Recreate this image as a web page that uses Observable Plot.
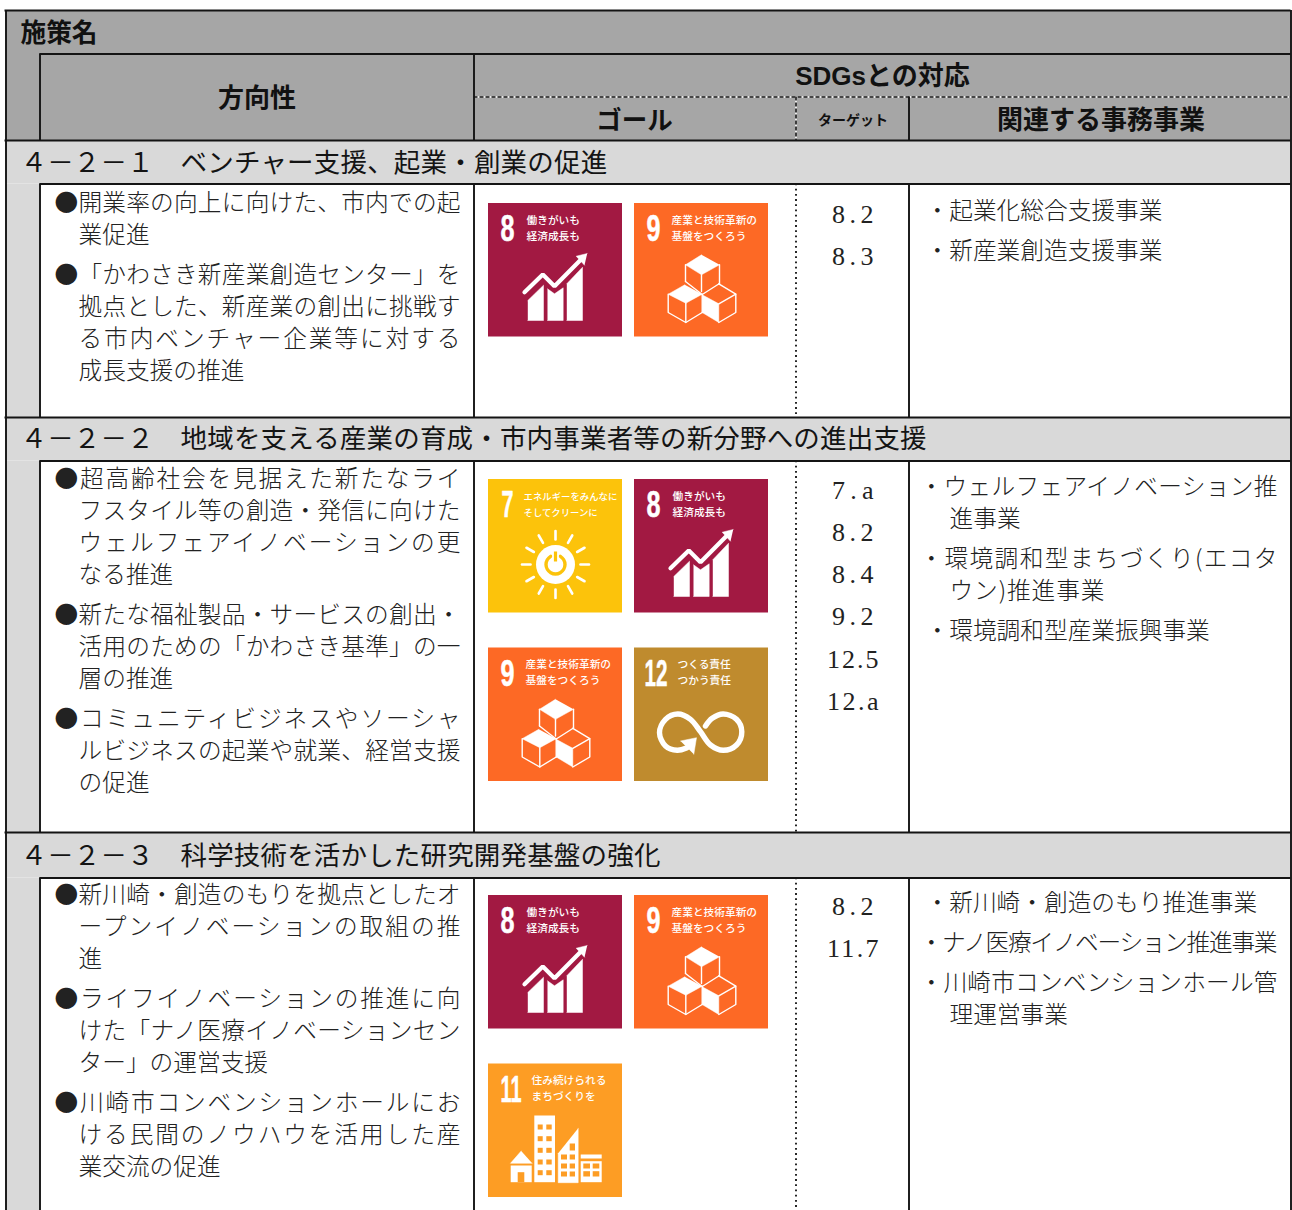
<!DOCTYPE html>
<html lang="ja">
<head>
<meta charset="utf-8">
<script src="https://cdn.jsdelivr.net/npm/d3@7"></script>
<script src="https://cdn.jsdelivr.net/npm/@observablehq/plot@0.6"></script>
<style>
html,body{margin:0;padding:0;background:#fff;overflow:hidden}
svg{display:block}
</style>
</head>
<body>
<div id="chart"></div>
<script>
// ---------- Content ----------
const titleText = "施策名";
const headDirection = "方向性";
const headSdgs = "SDGsとの対応";
const headGoal = "ゴール";
const headTarget = "ターゲット";
const headProjects = "関連する事務事業";

const sectionTitles = [
  "４－２－１　ベンチャー支援、起業・創業の促進",
  "４－２－２　地域を支える産業の育成・市内事業者等の新分野への進出支援",
  "４－２－３　科学技術を活かした研究開発基盤の強化"
];
const directions = [
  [["●開業率の向上に向けた、市内での起","業促進"],
   ["●「かわさき新産業創造センター」を","拠点とした、新産業の創出に挑戦す","る市内ベンチャー企業等に対する","成長支援の推進"]],
  [["●超高齢社会を見据えた新たなライ","フスタイル等の創造・発信に向けた","ウェルフェアイノベーションの更","なる推進"],
   ["●新たな福祉製品・サービスの創出・","活用のための「かわさき基準」の一","層の推進"],
   ["●コミュニティビジネスやソーシャ","ルビジネスの起業や就業、経営支援","の促進"]],
  [["●新川崎・創造のもりを拠点としたオ","ープンイノベーションの取組の推","進"],
   ["●ライフイノベーションの推進に向","けた「ナノ医療イノベーションセン","ター」の運営支援"],
   ["●川崎市コンベンションホールにお","ける民間のノウハウを活用した産","業交流の促進"]]
];
const goalNumbers = [[8,9],[7,8,9,12],[8,9,11]];
const targets = [["8.2","8.3"],["7.a","8.2","8.4","9.2","12.5","12.a"],["8.2","11.7"]];
const projects = [
  [["・起業化総合支援事業"],["・新産業創造支援事業"]],
  [["・ウェルフェアイノベーション推","進事業"],["・環境調和型まちづくり(エコタ","ウン)推進事業"],["・環境調和型産業振興事業"]],
  [["・新川崎・創造のもり推進事業"],["・ナノ医療イノベーション推進事業"],["・川崎市コンベンションホール管","理運営事業"]]
];
const goalLabels = {
  7:["エネルギーをみんなに","そしてクリーンに"],
  8:["働きがいも","経済成長も"],
  9:["産業と技術革新の","基盤をつくろう"],
  11:["住み続けられる","まちづくりを"],
  12:["つくる責任","つかう責任"]
};

// ---------- Layout of the sheet ----------
const W = 1292, H = 1210;
const colX = {outer:5.5, inner:39.5, goal:473.5, target:795.5, proj:908.5, right:1290.5};
const rowY = {top:10, head1:53.5, headDash:96.5, headEnd:140};
const sectionRows = [
  {band:141, body:183.5, end:417, firstLine:203, tileY:203, targetY:214, projY:211},
  {band:418, body:460.5, end:832, firstLine:479, tileY:479, targetY:490, projY:487},
  {band:833, body:877.5, end:H,   firstLine:895, tileY:895, targetY:906, projY:903}
];
const sectionCenter = [163,439,856];
const ink = "#141414";
const headFill = "#a6a6a6", bandFill = "#d9d9d9";
const sans = "'Noto Sans CJK JP','Noto Sans',sans-serif";
const numberFont = "'Liberation Sans Narrow','Liberation Sans',sans-serif";
const numberSize = 36.5;
const bodySize = 23.7;
const sectionPitch = 26.62;
const goalColor = {7:"#fcc30b",8:"#a21942",9:"#fd6925",11:"#fd9d24",12:"#bf8b2e"};

// Text stretched (or squeezed) to fit its measure, like a justified line.
const fitText = (adjust="spacing") => function(index, scales, values, dims, ctx, next){
  const g = next(index, scales, values, dims, ctx);
  const nodes = g.querySelectorAll("text");
  const data = this.data;
  index.forEach((i,k)=>{
    const d = data[i];
    if (d && d.x1 != null && nodes[k]) {
      nodes[k].setAttribute("textLength", scales.x(d.x1)-scales.x(d.x0));
      nodes[k].setAttribute("lengthAdjust", adjust);
    }
  });
  return g;
};
// The tall narrow tile numbers are condensed horizontally to the figure's width.
const measure = document.createElement("canvas").getContext("2d");
const condense = function(index, scales, values, dims, ctx, next){
  const g = next(index, scales, values, dims, ctx);
  const nodes = g.querySelectorAll("text");
  const data = this.data;
  index.forEach((i,k)=>{
    const d = data[i];
    measure.font = `700 ${numberSize}px ${numberFont}`;
    const sx = (d.x1-d.x0)/measure.measureText(d.t).width;
    nodes[k].setAttribute("transform", `${nodes[k].getAttribute("transform")} scale(${sx},1)`);
  });
  return g;
};
const textRows = (rows, o) => Plot.text(rows, {
  x:"x0", y:"y", text:"t", textAnchor:"start", lineAnchor:"middle",
  fontFamily:sans, fill:ink, render:fitText(o.adjust), ...o
});

// Paragraph lines: 32 apart, 40 between paragraphs; all but the last line are justified.
function paragraphLines(paragraphs, y0, xBullet, xCont, xEnd, longChars, xBulletLong, endings={}){
  const out = []; let y = y0;
  paragraphs.forEach(lines=>{
    lines.forEach((t,j)=>{
      const n = [...t].length;
      const x0 = j===0 ? (n>=longChars ? xBulletLong : xBullet) : xCont;
      const last = j===lines.length-1;
      const over = x0+n*bodySize > xEnd;
      const x1 = endings[t] ?? ((!last||over) ? xEnd : null);
      out.push({t, x0, y, x1});
      y += 32;
    });
    y += 8;
  });
  return out;
}

const bodyRows = [], projRows = [], targetRows = [];
const projectEndings = {"ウン)推進事業":1104};
sectionRows.forEach((s,i)=>{
  bodyRows.push(...paragraphLines(directions[i], s.firstLine, 54, 78, 460, 99, 54));
  projRows.push(...paragraphLines(projects[i], s.projY, 925, 949, 1277, 15, 919, projectEndings));
  targets[i].forEach((t,j)=>{
    const wide = t.length>3;
    targetRows.push({t, x0:wide?826.5:831.5, x1:wide?878:873, y:s.targetY+j*42.2});
  });
});
const sectionRowsText = sectionTitles.map((t,i)=>({t,x0:20,y:sectionCenter[i],x1:21+[...t].length*sectionPitch}));

// ---------- Icon shapes, in tile units (tile = 134 wide) ----------
const shapes = {
  8:{
    fills:[
      [[39.3,97],[55,81.7],[55,117],[39.3,117]],
      [[59,85.3],[66,90.3],[74.7,84.3],[74.7,117],[59,117]],
      [[78.3,80.3],[94,63.7],[94,117],[78.3,117]],
      [[98.7,50],[87.7,52.7],[96,61.7]]
    ],
    strokes:[{w:4.2,pts:[[36,88.7],[54.3,71],[66,82.7],[92,56.5]]}]
  },
  9:{
    fills:[
      [[67,51.3],[51,61.3],[67,71.3],[85,61.3]],
      [[50.3,81.3],[33.7,90.7],[51.3,99.7],[67.7,90.7]],
      [[67.7,91.3],[84.3,100.3],[84.3,119],[67.7,109]]
    ],
    strokes:[
      {w:1.4,pts:[[51,61.3],[51,78]]},{w:1.4,pts:[[85,61.3],[85,80]]},{w:1.4,pts:[[67,71.3],[67,88]]},
      {w:1.4,pts:[[51,78],[67.7,91]]},{w:1.4,pts:[[85,80],[67.7,91]]},
      {w:1.4,pts:[[33.7,90.7],[33.7,109],[51.3,119],[67.7,109]]},
      {w:1.4,pts:[[51.3,99.7],[51.3,119]]},{w:1.4,pts:[[67.7,90.7],[67.7,109]]},
      {w:1.4,pts:[[84.3,80.3],[101.3,90.7],[101.3,109],[84.3,119]]},
      {w:1.4,pts:[[84.3,100.3],[101.3,90.7]]}
    ]
  },
  12:{
    fills:[[[46,93],[62,89.7],[59.3,106.3]]],
    curves:[{w:5.4,pts:[[52,100],[42.7,102.3],[31,98],[25,84.7],[31,71.3],[43.3,66],[56,71.3],[66,83.7],[76,97],[88.7,102.3],[102,97],[107.3,83.7],[102,71.3],[88.7,66],[77.7,70.3],[71,78]]}]
  },
  11:{
    rects:[[46.3,52,67,118.7],[22.7,102,43.7,118.7],[92.7,91,113.7,95],[92.7,97.7,113.7,118.7]],
    fills:[[[32.7,87],[22,99.3],[43.7,99.3]],[[89.7,64.3],[89.7,118.7],[69.7,118.7],[69.7,89.3]]],
    holes:[
      [49.7,61,54.7,66],[58.3,61,63.7,66],[49.7,72.7,54.7,77.7],[58.3,72.7,63.7,77.7],
      [49.7,84.3,54.7,89.3],[58.3,84.3,63.7,89.3],[49.7,96,54.7,101],[58.3,96,63.7,101],
      [49.7,106.7,54.7,111.7],[58.3,106.7,63.7,111.7],[29.7,108.7,36.3,118.7],
      [81.7,80,87,87],[73,91,79,96],[81.7,91,87,96],[73,100,79,105],[81.7,100,87,105],[73,108,79,113],[81.7,108,87,113],
      [95.3,100,102,105],[104.7,100,111.3,105],[95.3,107.7,102,113],[104.7,107.7,111.3,113]
    ]
  }
};
const sunRayHours = [0,1,2,3,4,5,6,7,8,9,10,11];
const powerArcDeg = [30,60,90,120,150,180,210,240,270,300,330];

const numberWidth = {7:12,8:14,9:14,11:21,12:23};
const numberInset = {7:13,8:12,9:12,11:12,12:10};
const labelInset = {7:35,8:38,9:37,11:43,12:43};

function tileMarks(goal, ox, oy){
  const marks = [];
  const P = p=>({x:ox+p[0], y:oy+p[1]});
  marks.push(Plot.rect([{x1:ox,x2:ox+134,y1:oy,y2:oy+133.5}],{x1:"x1",x2:"x2",y1:"y1",y2:"y2",fill:goalColor[goal],inset:0}));
  const s = shapes[goal] || {};
  (s.rects||[]).forEach(r=>marks.push(Plot.rect([{x1:ox+r[0],y1:oy+r[1],x2:ox+r[2],y2:oy+r[3]}],{x1:"x1",x2:"x2",y1:"y1",y2:"y2",fill:"white"})));
  (s.fills||[]).forEach(f=>marks.push(Plot.line(f.map(P),{x:"x",y:"y",fill:"white",stroke:"white",strokeWidth:.5})));
  (s.strokes||[]).forEach(l=>marks.push(Plot.line(l.pts.map(P),{x:"x",y:"y",stroke:"white",strokeWidth:l.w,strokeLinejoin:"miter"})));
  (s.curves||[]).forEach(l=>marks.push(Plot.line(l.pts.map(P),{x:"x",y:"y",stroke:"white",strokeWidth:l.w,curve:"catmull-rom"})));
  (s.holes||[]).forEach(r=>marks.push(Plot.rect([{x1:ox+r[0],y1:oy+r[1],x2:ox+r[2],y2:oy+r[3]}],{x1:"x1",x2:"x2",y1:"y1",y2:"y2",fill:goalColor[goal]})));
  if (goal===7){
    const c=[ox+67,oy+85];
    marks.push(Plot.link(sunRayHours.map(h=>{const a=h*Math.PI/6;return {x1:c[0]+25*Math.sin(a),y1:c[1]-25*Math.cos(a),x2:c[0]+33.5*Math.sin(a),y2:c[1]-33.5*Math.cos(a)};}),{x1:"x1",y1:"y1",x2:"x2",y2:"y2",stroke:"white",strokeWidth:2.6,strokeLinecap:"round"}));
    marks.push(Plot.dot([{x:c[0],y:c[1]}],{x:"x",y:"y",r:19.5,fill:"white",stroke:"none"}));
    marks.push(Plot.line(powerArcDeg.map(d=>{const a=d*Math.PI/180;return {x:c[0]+9.5*Math.sin(a),y:c[1]-9.5*Math.cos(a)};}),{x:"x",y:"y",stroke:goalColor[7],strokeWidth:3.4,curve:"catmull-rom"}));
    marks.push(Plot.link([{x1:c[0],y1:c[1]-13,x2:c[0],y2:c[1]-3}],{x1:"x1",y1:"y1",x2:"x2",y2:"y2",stroke:"white",strokeWidth:6.5}));
    marks.push(Plot.link([{x1:c[0],y1:c[1]-13,x2:c[0],y2:c[1]-3}],{x1:"x1",y1:"y1",x2:"x2",y2:"y2",stroke:goalColor[7],strokeWidth:3.2}));
  }
  marks.push(textRows([{t:String(goal),x0:ox+numberInset[goal],x1:ox+numberInset[goal]+numberWidth[goal],y:oy+26}],
    {fontSize:numberSize,fontWeight:700,fill:"white",stroke:"white",strokeWidth:.5,render:condense,fontFamily:numberFont}));
  const ll = goalLabels[goal];
  marks.push(textRows(ll.map((t,i)=>({t,x0:ox+labelInset[goal],y:oy+17+i*16,x1:null})),
    {fontSize:goal===7?9.4:10.7,fontWeight:500,fill:"#fff"}));
  return marks;
}
const tiles = [];
sectionRows.forEach((s,i)=>goalNumbers[i].forEach((g,j)=>{
  tiles.push(...tileMarks(g, [488,634][j%2], s.tileY + Math.floor(j/2)*168.5));
}));

// ---------- Rules ----------
const hRules = [
  {y:rowY.top,x1:colX.outer-1,x2:colX.right},
  {y:rowY.head1,x1:colX.inner,x2:colX.right},
  {y:rowY.headEnd,x1:colX.outer-1,x2:colX.right}
];
const vRules = [
  {x:colX.outer,y1:rowY.top,y2:H},
  {x:colX.right,y1:rowY.top,y2:H},
  {x:colX.inner,y1:rowY.head1,y2:rowY.headEnd},
  {x:colX.goal,y1:rowY.head1,y2:rowY.headEnd},
  {x:colX.proj,y1:rowY.headDash,y2:rowY.headEnd}
];
const dots = [];
sectionRows.forEach(s=>{
  hRules.push({y:s.body,x1:colX.inner,x2:colX.right});
  if (s.end<H) hRules.push({y:s.end,x1:colX.outer-1,x2:colX.right});
  [colX.inner,colX.goal,colX.proj].forEach(x=>vRules.push({x,y1:s.body,y2:s.end}));
  dots.push({x:colX.target,y1:s.body,y2:s.end});
});
const panels = [
  {x1:colX.outer,x2:colX.right,y1:rowY.top,y2:rowY.headEnd,fill:headFill},
  ...sectionRows.flatMap(s=>[
    {x1:colX.outer,x2:colX.right,y1:s.band,y2:s.body,fill:bandFill},
    {x1:colX.outer,x2:colX.inner,y1:s.body,y2:s.end,fill:bandFill}
  ])
];

const center = (t,x,y)=>[{t,x,y}];
const headText = (t,x,y,size,extra={}) => Plot.text(center(t,x,y),{x:"x",y:"y",text:"t",textAnchor:"middle",lineAnchor:"middle",fontFamily:sans,fontSize:size,fontWeight:700,fill:"#111",...extra});

const chart = Plot.plot({
  width:W, height:H, margin:0,
  x:{domain:[0,W],range:[0,W],axis:null},
  y:{domain:[0,H],range:[0,H],axis:null},
  style:{background:"#fff"},
  marks:[
    Plot.rect(panels,{x1:"x1",x2:"x2",y1:"y1",y2:"y2",fill:"fill"}),
    Plot.ruleY([{y:rowY.headDash,x1:colX.goal,x2:colX.right}],{y:"y",x1:"x1",x2:"x2",stroke:"#fff",strokeWidth:1.4}),
    Plot.ruleY([{y:rowY.headDash,x1:colX.goal,x2:colX.right}],{y:"y",x1:"x1",x2:"x2",stroke:"#111",strokeWidth:1.4,strokeDasharray:"4 2"}),
    Plot.ruleX([{x:colX.target,y1:rowY.headDash,y2:rowY.headEnd}],{x:"x",y1:"y1",y2:"y2",stroke:"#fff",strokeWidth:1.6}),
    Plot.ruleX([{x:colX.target,y1:rowY.headDash,y2:rowY.headEnd}],{x:"x",y1:"y1",y2:"y2",stroke:"#111",strokeWidth:1.6,strokeDasharray:"4 2"}),
    Plot.ruleX(dots,{x:"x",y1:"y1",y2:"y2",stroke:"#111",strokeWidth:1.8,strokeDasharray:"1.8 3.4"}),
    Plot.ruleX(vRules,{x:"x",y1:"y1",y2:"y2",stroke:ink,strokeWidth:1.9}),
    Plot.ruleY(hRules,{y:"y",x1:"x1",x2:"x2",stroke:ink,strokeWidth:1.9}),
    Plot.text(center(titleText,20,33),{x:"x",y:"y",text:"t",textAnchor:"start",lineAnchor:"middle",fontFamily:sans,fontSize:25.7,fontWeight:700,fill:"#111"}),
    headText(headDirection,256.5,98,26),
    headText(headSdgs,882,76,26,{fontFamily:"'Liberation Sans','Noto Sans CJK JP',sans-serif"}),
    headText(headGoal,634,120,25.5),
    headText(headTarget,852.5,120,14),
    headText(headProjects,1100.5,120,26),
    textRows(sectionRowsText,{fontSize:26.5,fontWeight:400}),
    textRows(bodyRows,{fontSize:bodySize,fontWeight:300,fill:"#222"}),
    textRows(projRows,{fontSize:bodySize,fontWeight:300,fill:"#222"}),
    textRows(targetRows,{fontSize:26,fontFamily:"'Liberation Serif',serif",fill:"#222"}),
    ...tiles
  ]
});
document.getElementById("chart").append(chart);
</script>
</body>
</html>
